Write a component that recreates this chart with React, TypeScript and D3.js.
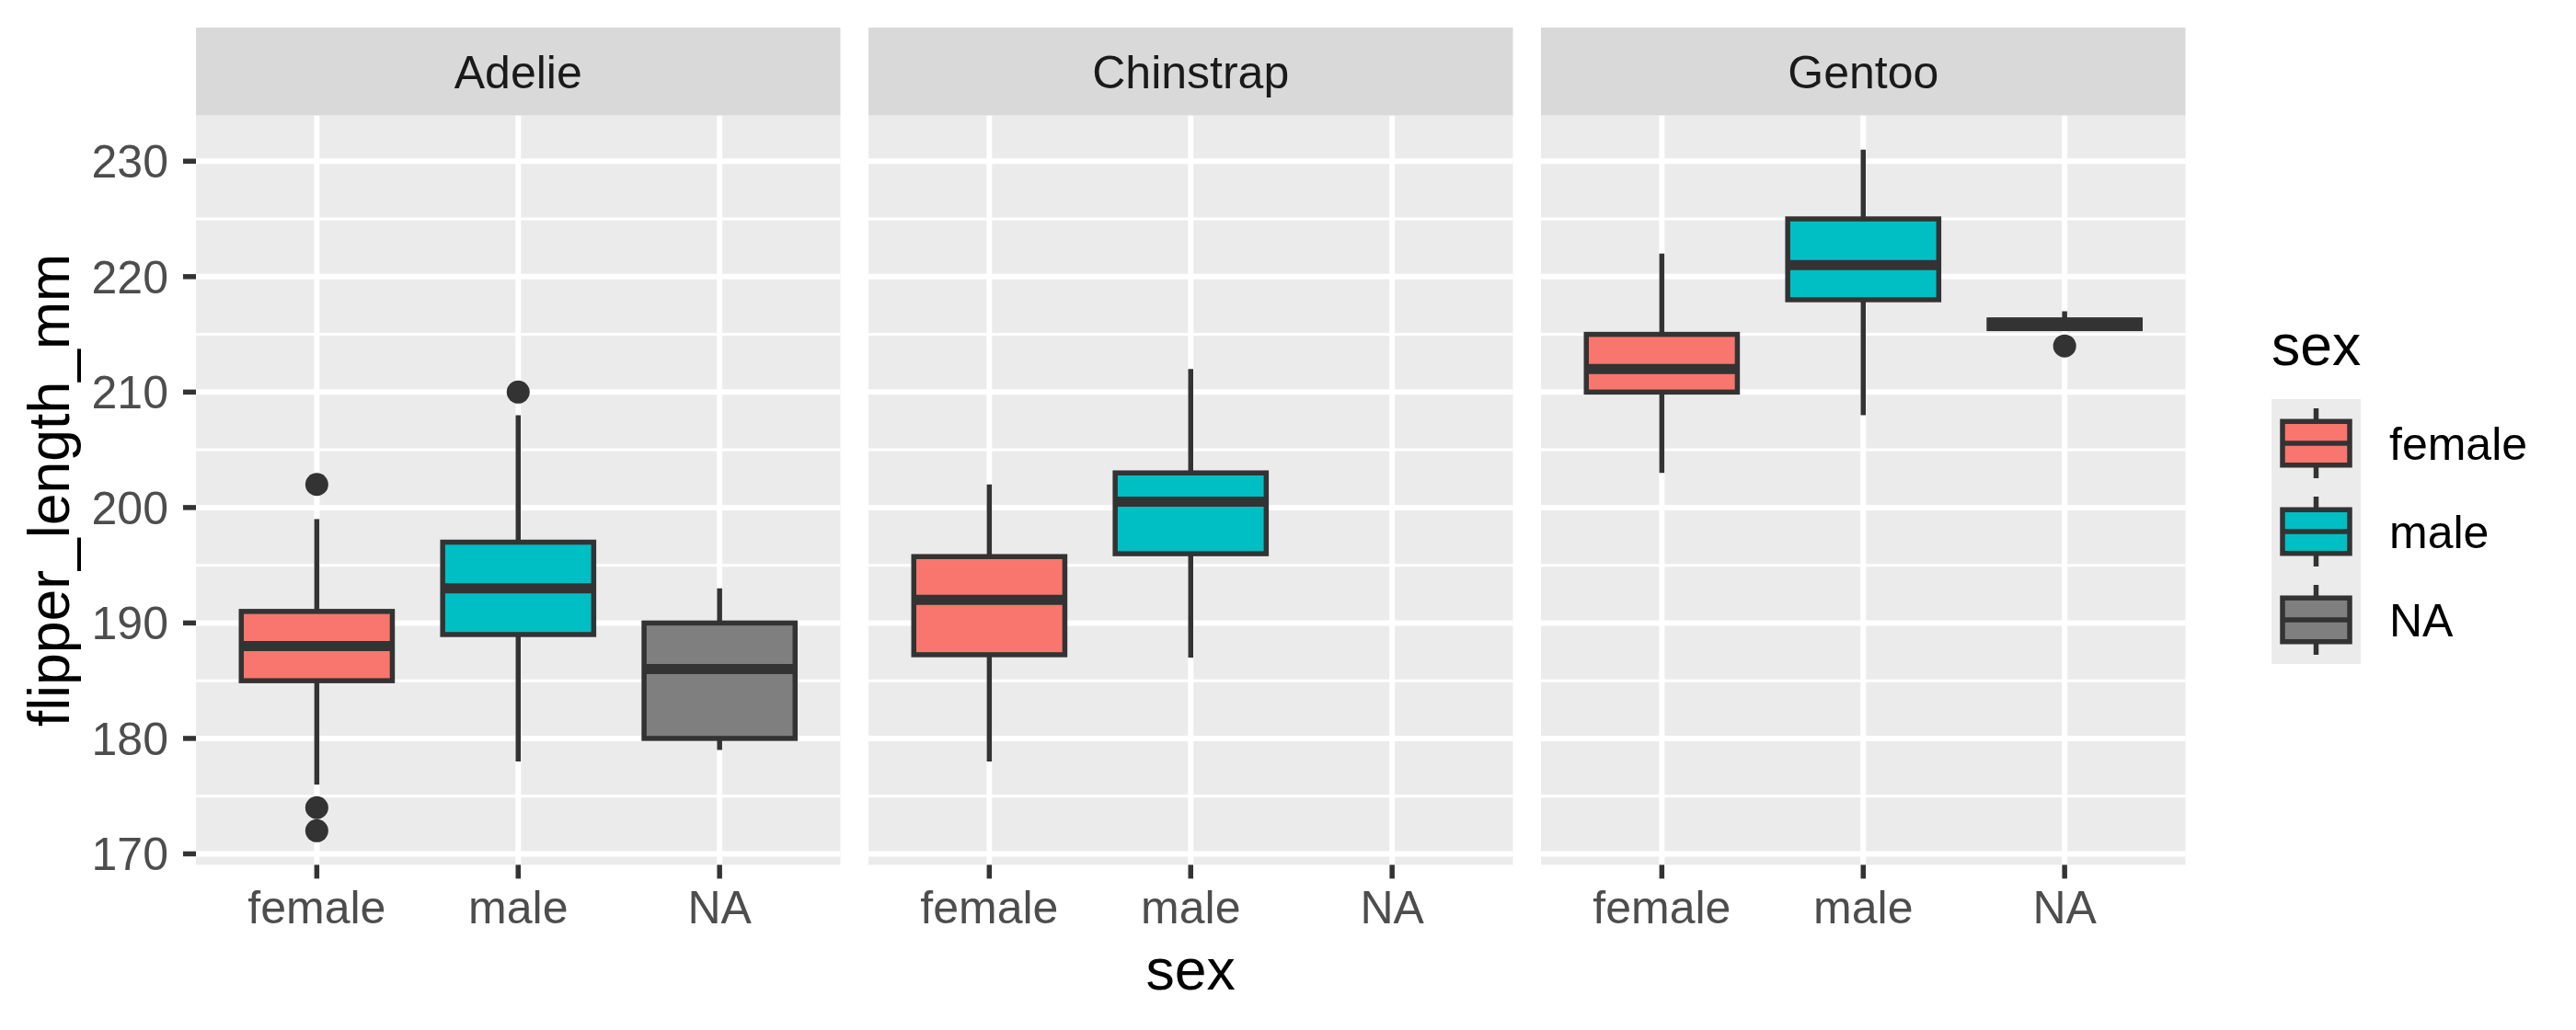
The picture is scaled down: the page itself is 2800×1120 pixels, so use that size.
import * as d3 from "d3";
import { useEffect, useRef } from "react";

const SPECIES = ["Adelie", "Chinstrap", "Gentoo"];
const SEXES = ["female", "male", "NA"];
const FILLS = ["#F8766D", "#00BFC4", "#7F7F7F"];

// one entry per box (species x sex)
const BOX_SPECIES = ["Adelie", "Adelie", "Adelie", "Chinstrap", "Chinstrap", "Gentoo", "Gentoo", "Gentoo"];
const BOX_SEX = ["female", "male", "NA", "female", "male", "female", "male", "NA"];
const LOWER = [176, 178, 179, 178, 187, 203, 208, 215.5];
const Q1 = [185, 189, 180, 187.25, 196, 210, 218, 215.5];
const MEDIAN = [188, 193, 186, 192, 200.5, 212, 221, 216];
const Q3 = [191, 197, 190, 195.75, 203, 215, 225, 216.25];
const UPPER = [199, 208, 193, 202, 212, 222, 231, 217];
const OUTLIERS = [[172, 174, 202], [210], [], [], [], [], [], [214]];

const Y_TICKS = [170, 180, 190, 200, 210, 220, 230];
const Y_MINOR = [175, 185, 195, 205, 215, 225];

const FONT = "'Liberation Sans', Arial, Helvetica, sans-serif";
const DARK = "#333333";

export default function App() {
  const svgRef = useRef<SVGSVGElement>(null);
  const width = 2800;
  const height = 1120;

  useEffect(() => {
    document.body.style.margin = "0";
    if (!svgRef.current) return;
    const svg = d3.select(svgRef.current);
    svg.selectAll("*").remove();

    svg.append("rect").attr("width", width).attr("height", height).attr("fill", "white");

    const panelLeft = 213;
    const panelW = 700.5;
    const panelGap = 30.5;
    const stripTop = 30;
    const panelTop = 125.7;
    const panelBottom = 940.4;

    const y = d3.scaleLinear().domain([169.05, 233.95]).range([panelBottom, panelTop]);

    SPECIES.forEach((sp, i) => {
      const x0 = panelLeft + i * (panelW + panelGap);
      const x = d3.scalePoint<string>().domain(SEXES).range([x0, x0 + panelW]).padding(0.6);
      const step = x.step();
      const g = svg.append("g");

      // strip
      g.append("rect")
        .attr("x", x0)
        .attr("y", stripTop)
        .attr("width", panelW)
        .attr("height", panelTop - stripTop)
        .attr("fill", "#D9D9D9");
      g.append("text")
        .attr("x", x0 + panelW / 2)
        .attr("y", (stripTop + panelTop) / 2)
        .attr("dy", "0.36em")
        .attr("text-anchor", "middle")
        .style("font-family", FONT)
        .style("font-size", "50px")
        .style("fill", "#1A1A1A")
        .text(sp);

      // panel background + grid
      g.append("rect")
        .attr("x", x0)
        .attr("y", panelTop)
        .attr("width", panelW)
        .attr("height", panelBottom - panelTop)
        .attr("fill", "#EBEBEB");
      Y_MINOR.forEach((v) => {
        g.append("line")
          .attr("x1", x0).attr("x2", x0 + panelW)
          .attr("y1", y(v)).attr("y2", y(v))
          .attr("stroke", "white").attr("stroke-width", 3);
      });
      Y_TICKS.forEach((v) => {
        g.append("line")
          .attr("x1", x0).attr("x2", x0 + panelW)
          .attr("y1", y(v)).attr("y2", y(v))
          .attr("stroke", "white").attr("stroke-width", 6);
      });
      SEXES.forEach((s) => {
        g.append("line")
          .attr("x1", x(s)!).attr("x2", x(s)!)
          .attr("y1", panelTop).attr("y2", panelBottom)
          .attr("stroke", "white").attr("stroke-width", 6);
        // x ticks + labels
        g.append("line")
          .attr("x1", x(s)!).attr("x2", x(s)!)
          .attr("y1", panelBottom).attr("y2", panelBottom + 15)
          .attr("stroke", DARK).attr("stroke-width", 5.5);
        g.append("text")
          .attr("x", x(s)!)
          .attr("y", 1004)
          .attr("text-anchor", "middle")
          .style("font-family", FONT)
          .style("font-size", "50px")
          .style("fill", "#4D4D4D")
          .text(s);
      });

      // boxes
      const boxW = step * 0.75;
      BOX_SPECIES.forEach((bs, k) => {
        if (bs !== sp) return;
        const cx = x(BOX_SEX[k])!;
        const fill = FILLS[SEXES.indexOf(BOX_SEX[k])];
        g.append("line")
          .attr("x1", cx).attr("x2", cx)
          .attr("y1", y(Q3[k])).attr("y2", y(UPPER[k]))
          .attr("stroke", DARK).attr("stroke-width", 5.5);
        g.append("line")
          .attr("x1", cx).attr("x2", cx)
          .attr("y1", y(Q1[k])).attr("y2", y(LOWER[k]))
          .attr("stroke", DARK).attr("stroke-width", 5.5);
        g.append("rect")
          .attr("x", cx - boxW / 2)
          .attr("y", y(Q3[k]))
          .attr("width", boxW)
          .attr("height", y(Q1[k]) - y(Q3[k]))
          .attr("fill", fill)
          .attr("stroke", DARK)
          .attr("stroke-width", 5.5);
        g.append("line")
          .attr("x1", cx - boxW / 2).attr("x2", cx + boxW / 2)
          .attr("y1", y(MEDIAN[k])).attr("y2", y(MEDIAN[k]))
          .attr("stroke", DARK).attr("stroke-width", 11);
        OUTLIERS[k].forEach((o) => {
          g.append("circle")
            .attr("cx", cx)
            .attr("cy", y(o))
            .attr("r", 12.5)
            .attr("fill", DARK);
        });
      });
    });

    // y axis
    const ya = svg.append("g");
    Y_TICKS.forEach((v) => {
      ya.append("line")
        .attr("x1", panelLeft - 14).attr("x2", panelLeft)
        .attr("y1", y(v)).attr("y2", y(v))
        .attr("stroke", DARK).attr("stroke-width", 5.5);
      ya.append("text")
        .attr("x", 183)
        .attr("y", y(v))
        .attr("dy", "0.36em")
        .attr("text-anchor", "end")
        .style("font-family", FONT)
        .style("font-size", "50px")
        .style("fill", "#4D4D4D")
        .text(v);
    });

    // axis titles
    svg.append("text")
      .attr("transform", `translate(75, ${(panelTop + panelBottom) / 2}) rotate(-90)`)
      .attr("text-anchor", "middle")
      .style("font-family", FONT)
      .style("font-size", "62.5px")
      .style("fill", "black")
      .text("flipper_length_mm");
    svg.append("text")
      .attr("x", panelLeft + 1.5 * panelW + panelGap)
      .attr("y", 1076)
      .attr("text-anchor", "middle")
      .style("font-family", FONT)
      .style("font-size", "62.5px")
      .style("fill", "black")
      .text("sex");

    // legend
    const lg = svg.append("g");
    lg.append("text")
      .attr("x", 2469)
      .attr("y", 397)
      .style("font-family", FONT)
      .style("font-size", "62.5px")
      .style("fill", "black")
      .text("sex");
    const keyX = 2469;
    const keyW = 97;
    const keyH = 96;
    const keyTop = 434;
    SEXES.forEach((s, i) => {
      const top = keyTop + i * keyH;
      const cx = keyX + keyW / 2;
      const cy = top + keyH / 2;
      lg.append("rect")
        .attr("x", keyX).attr("y", top)
        .attr("width", keyW).attr("height", keyH)
        .attr("fill", "#EBEBEB");
      lg.append("line")
        .attr("x1", cx).attr("x2", cx)
        .attr("y1", cy - 38).attr("y2", cy + 38)
        .attr("stroke", DARK).attr("stroke-width", 5.5);
      lg.append("rect")
        .attr("x", cx - 36.5).attr("y", cy - 23.75)
        .attr("width", 73).attr("height", 47.5)
        .attr("fill", FILLS[i])
        .attr("stroke", DARK).attr("stroke-width", 5.5);
      lg.append("line")
        .attr("x1", cx - 36.5).attr("x2", cx + 36.5)
        .attr("y1", cy).attr("y2", cy)
        .attr("stroke", DARK).attr("stroke-width", 5.5);
      lg.append("text")
        .attr("x", 2597)
        .attr("y", cy)
        .attr("dy", "0.36em")
        .style("font-family", FONT)
        .style("font-size", "50px")
        .style("fill", "black")
        .text(s);
    });
  }, []);

  return <svg ref={svgRef} width={width} height={height} style={{ display: "block" }} />;
}
